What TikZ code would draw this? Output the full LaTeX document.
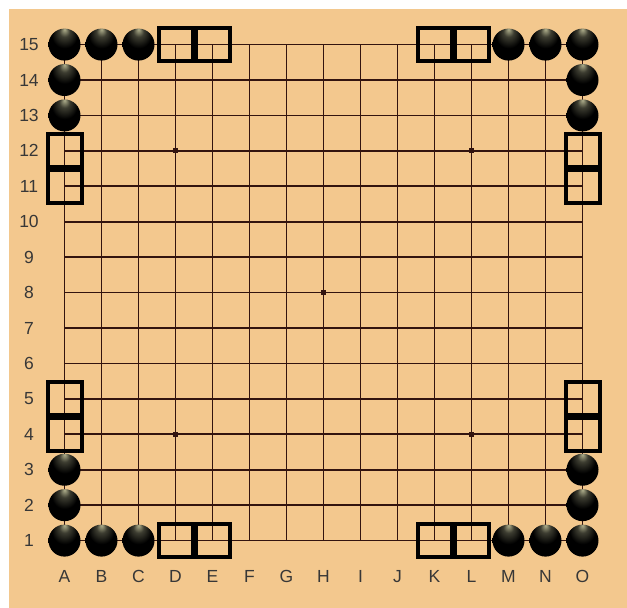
\documentclass[tikz,border=0pt]{standalone}
\usepackage{fontspec}
\setmainfont{Liberation Sans}
\definecolor{wood}{RGB}{243,200,142}
\definecolor{gridc}{RGB}{50,20,15}
\definecolor{labc}{RGB}{55,55,55}
\definecolor{stonehl}{RGB}{175,175,140}
\pgfdeclareradialshading{stoneshade}{\pgfpoint{0bp}{24bp}}{%
  color(0bp)=(stonehl);color(8bp)=(black!65!stonehl);color(20bp)=(black);color(50bp)=(black)}
\tikzset{
  stone/.style={circle,minimum size=32pt,inner sep=0pt,shading=stoneshade},
  markbox/.style={draw=black,line width=4pt,minimum width=34pt,minimum height=33pt,inner sep=0pt},
  gridline/.style={draw=gridc,line width=1.7pt},
  lab/.style={font=\fontsize{17.5}{18}\selectfont,text=labc,inner sep=0pt},
  star/.style={fill=gridc,minimum size=5pt,inner sep=0pt}
}
\begin{document}
\begin{tikzpicture}[x=1pt,y=-1pt]
\useasboundingbox (0,0) rectangle (627,608);
\fill[white] (0,0) rectangle (627,608);
\fill[wood] (9,9) rectangle (627,608);
% grid
\foreach \i in {0,...,14}{
  \draw[gridline] ({64.5+37*\i},44.6) -- ({64.5+37*\i},540.6);
  \draw[gridline] (64.5,{540.6-35.43*\i}) -- (582.5,{540.6-35.43*\i});
}
% star points
\foreach \c/\r [count=\k] in {3/11,11/11,3/3,11/3,7/7}{
  \node[star] (s\k) at ({64.5+37*\c},{540.6-35.43*\r}) {};
}
% labels
\foreach \L [count=\k from 0] in {A,B,C,D,E,F,G,H,I,J,K,L,M,N,O}{
  \node[lab] (col\L) at ({64.5+37*\k},576.5) {\L};
}
\foreach \r in {1,...,15}{
  \node[lab] (row\r) at (29,{540.6-35.43*(\r-1)}) {\r};
}
% stones
\foreach \c/\r/\n in {0/1/A1,1/1/B1,2/1/C1,0/2/A2,0/3/A3,
  12/1/M1,13/1/N1,14/1/O1,14/2/O2,14/3/O3,
  0/15/A15,1/15/B15,2/15/C15,0/14/A14,0/13/A13,
  12/15/M15,13/15/N15,14/15/O15,14/14/O14,14/13/O13}{
  \node[stone] (st\n) at ({64.5+37*\c},{540.6-35.43*(\r-1)}) {};
}
% boxes
\foreach \c/\r/\n in {3/15/D15,4/15/E15,10/15/K15,11/15/L15,
  3/1/D1,4/1/E1,10/1/K1,11/1/L1,
  0/12/A12,0/11/A11,0/5/A5,0/4/A4,
  14/12/O12,14/11/O11,14/5/O5,14/4/O4}{
  \node[markbox] (bx\n) at ({64.5+37*\c},{540.6-35.43*(\r-1)}) {};
}
\end{tikzpicture}
\end{document}
